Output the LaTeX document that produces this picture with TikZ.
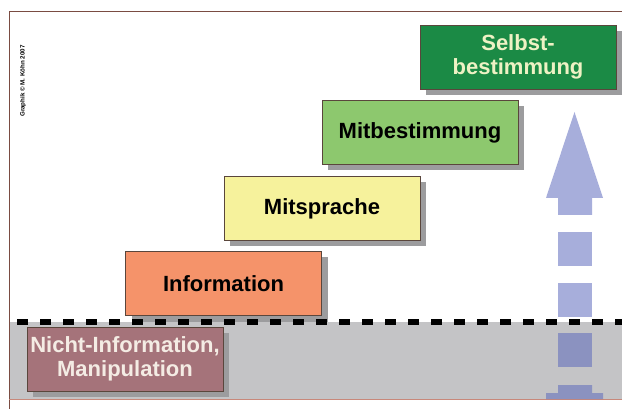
\documentclass[tikz,border=0pt]{standalone}
\usepackage{fontspec}
\setmainfont{Liberation Sans}
\usetikzlibrary{shadows}

\definecolor{bandgrau}{HTML}{C4C4C6}
\definecolor{schatten}{HTML}{9C9C9E}
\definecolor{rahmenbraun}{HTML}{5A463C}
\definecolor{linienbraun}{HTML}{7A4C42}
\definecolor{linienrot}{HTML}{C8887A}
\definecolor{pfeilblau}{HTML}{5A66BB}
\definecolor{nichtrot}{HTML}{A5737A}
\definecolor{inforot}{HTML}{F5936A}
\definecolor{sprachgelb}{HTML}{F6F29C}
\definecolor{bestgruen}{HTML}{8DC86E}
\definecolor{selbstgruen}{HTML}{1B8A45}
\definecolor{hellgelb}{HTML}{EEF2C4}
\definecolor{hellrosa}{HTML}{F4ECE4}

\begin{document}
\begin{tikzpicture}[x=1pt,y=-1pt,
	stufe/.style={draw=rahmenbraun, line width=0.8pt, minimum width=196pt, minimum height=64pt,
		inner sep=0pt, align=center, font=\fontsize{22}{24}\selectfont\bfseries,
		drop shadow={shadow xshift=6pt, shadow yshift=-6pt, fill=schatten, opacity=1}},
	pfeil/.style={fill=pfeilblau, fill opacity=0.53}]
		\useasboundingbox (0,0) rectangle (622,409);
		\fill [white] (0,0) rectangle (622,409);
		% grauer Bereich unten
		\fill [bandgrau] (9,322) rectangle (622,399);
		\draw [linienbraun, line width=0.8pt] (622,11)--(9,11)--(9,409);
		\draw [linienrot, line width=0.8pt] (9,399)--(622,399);
		% Pfeil
		\fill [pfeil] (546,198)--(574.5,112)--(603,198)--(592,198)--(592,215)--(558,215)--(558,198)--cycle;
		\foreach \y in {232,283,333}
			\fill [pfeil] (558,\y) rectangle (592,\y+34);
		\fill [pfeil] (558,385)--(592,385)--(592,393)--(603,393)--(603,399)--(546,399)--(546,393)--(558,393)--cycle;
		% Stufen
		\node [stufe, fill=nichtrot, text=hellrosa] (nicht) at (125,359) {Nicht-Information,\\Manipulation};
		\node [stufe, fill=inforot] (info) at (223.5,283.5) {Information};
		\node [stufe, fill=sprachgelb] (mitsprache) at (322,208.5) {Mitsprache};
		\node [stufe, fill=bestgruen] (mitbest) at (420,132.5) {Mitbestimmung};
		\node [stufe, fill=selbstgruen, text=hellgelb] (selbst) at (518,57) {Selbst-\\bestimmung};
		\draw [black, line width=6pt, dash pattern=on 11pt off 12pt] (17,322)--(622,322);
		\node [rotate=90, font=\fontsize{6.2}{7}\selectfont\bfseries] (grafik) at (23,81) {Graphik © M. Köhn 2007};
	\end{tikzpicture}
\end{document}
